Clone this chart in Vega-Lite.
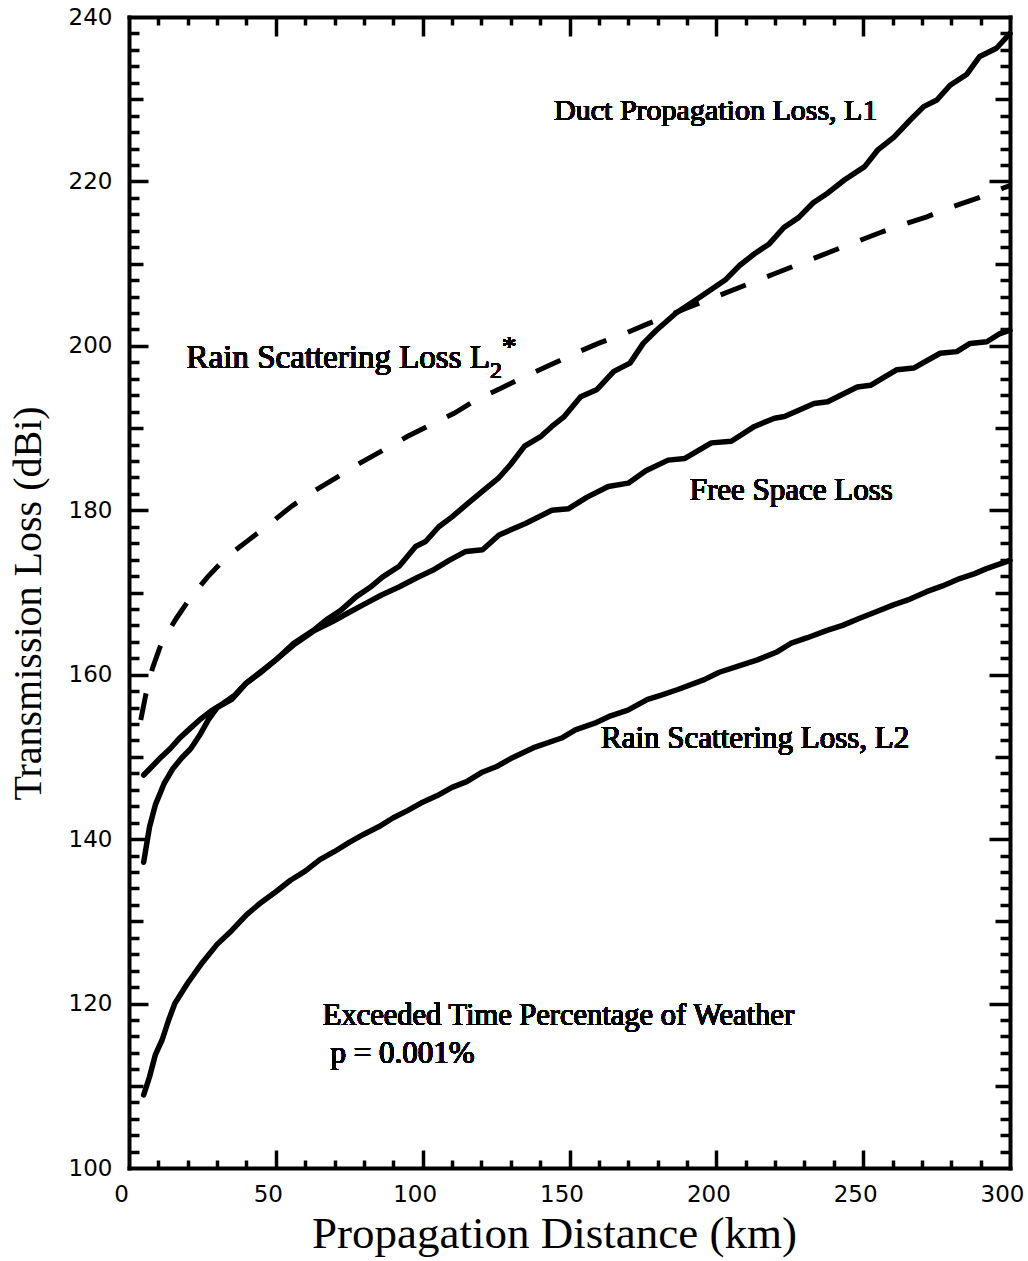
{
  "$schema": "https://vega.github.io/schema/vega-lite/v6.json",
  "width": 881,
  "height": 1151,
  "autosize": {"type": "none"},
  "padding": {"left": 129, "top": 17, "right": 18, "bottom": 93},
  "background": "white",
  "config": {"view": {"stroke": null}, "axis": {"grid": false}},
  "data": {"values": [
    {"s": "L1", "km": 5, "dB": 137.2}, {"s": "L1", "km": 7, "dB": 141.5}, {"s": "L1", "km": 9, "dB": 144.2}, {"s": "L1", "km": 12, "dB": 146.8}, {"s": "L1", "km": 15, "dB": 148.6}, {"s": "L1", "km": 18, "dB": 149.9}, {"s": "L1", "km": 21, "dB": 151.0}, {"s": "L1", "km": 24, "dB": 152.6}, {"s": "L1", "km": 27, "dB": 154.5}, {"s": "L1", "km": 30, "dB": 156.0}, {"s": "L1", "km": 35, "dB": 157.0}, {"s": "L1", "km": 40, "dB": 159.0}, {"s": "L1", "km": 45, "dB": 160.3}, {"s": "L1", "km": 50, "dB": 161.8}, {"s": "L1", "km": 56, "dB": 163.8}, {"s": "L1", "km": 62.8, "dB": 165.4}, {"s": "L1", "km": 67.3, "dB": 166.7}, {"s": "L1", "km": 72, "dB": 167.8}, {"s": "L1", "km": 77.4, "dB": 169.5}, {"s": "L1", "km": 82, "dB": 170.6}, {"s": "L1", "km": 86.4, "dB": 171.9}, {"s": "L1", "km": 92, "dB": 173.2}, {"s": "L1", "km": 97.6, "dB": 175.6}, {"s": "L1", "km": 101, "dB": 176.2}, {"s": "L1", "km": 105.5, "dB": 178.0}, {"s": "L1", "km": 110, "dB": 179.2}, {"s": "L1", "km": 115.6, "dB": 180.9}, {"s": "L1", "km": 120, "dB": 182.2}, {"s": "L1", "km": 125.8, "dB": 183.9}, {"s": "L1", "km": 130, "dB": 185.6}, {"s": "L1", "km": 134.7, "dB": 187.8}, {"s": "L1", "km": 140.3, "dB": 189.0}, {"s": "L1", "km": 144, "dB": 190.2}, {"s": "L1", "km": 148.2, "dB": 191.4}, {"s": "L1", "km": 153.8, "dB": 193.8}, {"s": "L1", "km": 159.4, "dB": 194.7}, {"s": "L1", "km": 165.1, "dB": 196.9}, {"s": "L1", "km": 170.6, "dB": 197.9}, {"s": "L1", "km": 175.1, "dB": 200.3}, {"s": "L1", "km": 179.6, "dB": 201.9}, {"s": "L1", "km": 186.3, "dB": 204.0}, {"s": "L1", "km": 193.1, "dB": 205.6}, {"s": "L1", "km": 198, "dB": 206.8}, {"s": "L1", "km": 203, "dB": 208.0}, {"s": "L1", "km": 208, "dB": 209.8}, {"s": "L1", "km": 213, "dB": 211.2}, {"s": "L1", "km": 218, "dB": 212.4}, {"s": "L1", "km": 223, "dB": 214.4}, {"s": "L1", "km": 228, "dB": 215.6}, {"s": "L1", "km": 233, "dB": 217.4}, {"s": "L1", "km": 238, "dB": 218.6}, {"s": "L1", "km": 243.7, "dB": 220.2}, {"s": "L1", "km": 250.5, "dB": 221.8}, {"s": "L1", "km": 254.9, "dB": 223.8}, {"s": "L1", "km": 260.5, "dB": 225.4}, {"s": "L1", "km": 266.1, "dB": 227.5}, {"s": "L1", "km": 270.6, "dB": 229.1}, {"s": "L1", "km": 275.1, "dB": 229.9}, {"s": "L1", "km": 279.6, "dB": 231.7}, {"s": "L1", "km": 285.2, "dB": 233.0}, {"s": "L1", "km": 289.7, "dB": 235.2}, {"s": "L1", "km": 295.4, "dB": 236.2}, {"s": "L1", "km": 300, "dB": 238.0},
    {"s": "FSL", "km": 5, "dB": 147.8}, {"s": "FSL", "km": 8, "dB": 148.9}, {"s": "FSL", "km": 11, "dB": 150.0}, {"s": "FSL", "km": 14, "dB": 151.0}, {"s": "FSL", "km": 17, "dB": 152.2}, {"s": "FSL", "km": 20, "dB": 153.2}, {"s": "FSL", "km": 24, "dB": 154.5}, {"s": "FSL", "km": 28, "dB": 155.6}, {"s": "FSL", "km": 32, "dB": 156.5}, {"s": "FSL", "km": 36, "dB": 157.5}, {"s": "FSL", "km": 40, "dB": 159.0}, {"s": "FSL", "km": 45, "dB": 160.4}, {"s": "FSL", "km": 50, "dB": 161.8}, {"s": "FSL", "km": 56, "dB": 163.6}, {"s": "FSL", "km": 62.8, "dB": 165.3}, {"s": "FSL", "km": 69.5, "dB": 166.5}, {"s": "FSL", "km": 75, "dB": 167.6}, {"s": "FSL", "km": 80.8, "dB": 168.7}, {"s": "FSL", "km": 86, "dB": 169.7}, {"s": "FSL", "km": 92.1, "dB": 170.7}, {"s": "FSL", "km": 98, "dB": 171.8}, {"s": "FSL", "km": 103.4, "dB": 172.7}, {"s": "FSL", "km": 109, "dB": 173.9}, {"s": "FSL", "km": 114.7, "dB": 175.0}, {"s": "FSL", "km": 120.4, "dB": 175.2}, {"s": "FSL", "km": 126, "dB": 177.0}, {"s": "FSL", "km": 135, "dB": 178.4}, {"s": "FSL", "km": 144, "dB": 180.0}, {"s": "FSL", "km": 149.7, "dB": 180.2}, {"s": "FSL", "km": 156, "dB": 181.6}, {"s": "FSL", "km": 163.2, "dB": 182.9}, {"s": "FSL", "km": 170, "dB": 183.3}, {"s": "FSL", "km": 176, "dB": 184.8}, {"s": "FSL", "km": 183.6, "dB": 186.1}, {"s": "FSL", "km": 189.3, "dB": 186.3}, {"s": "FSL", "km": 198.3, "dB": 188.2}, {"s": "FSL", "km": 205.1, "dB": 188.4}, {"s": "FSL", "km": 213, "dB": 190.2}, {"s": "FSL", "km": 219.8, "dB": 191.2}, {"s": "FSL", "km": 223.2, "dB": 191.4}, {"s": "FSL", "km": 233.3, "dB": 193.0}, {"s": "FSL", "km": 237.9, "dB": 193.2}, {"s": "FSL", "km": 248, "dB": 195.0}, {"s": "FSL", "km": 252.5, "dB": 195.2}, {"s": "FSL", "km": 261.5, "dB": 197.1}, {"s": "FSL", "km": 267.2, "dB": 197.3}, {"s": "FSL", "km": 276.2, "dB": 199.1}, {"s": "FSL", "km": 281.9, "dB": 199.3}, {"s": "FSL", "km": 286.4, "dB": 200.3}, {"s": "FSL", "km": 292.1, "dB": 200.5}, {"s": "FSL", "km": 296.6, "dB": 201.5}, {"s": "FSL", "km": 300, "dB": 201.9},
    {"s": "L2", "km": 5, "dB": 108.9}, {"s": "L2", "km": 7, "dB": 111.1}, {"s": "L2", "km": 9, "dB": 113.8}, {"s": "L2", "km": 11.3, "dB": 115.6}, {"s": "L2", "km": 13.5, "dB": 118.0}, {"s": "L2", "km": 15.6, "dB": 120.0}, {"s": "L2", "km": 20, "dB": 122.5}, {"s": "L2", "km": 25, "dB": 125.0}, {"s": "L2", "km": 30, "dB": 127.2}, {"s": "L2", "km": 35, "dB": 128.9}, {"s": "L2", "km": 40, "dB": 130.8}, {"s": "L2", "km": 45, "dB": 132.3}, {"s": "L2", "km": 50, "dB": 133.6}, {"s": "L2", "km": 55, "dB": 135.0}, {"s": "L2", "km": 60, "dB": 136.1}, {"s": "L2", "km": 65, "dB": 137.5}, {"s": "L2", "km": 70, "dB": 138.5}, {"s": "L2", "km": 75, "dB": 139.6}, {"s": "L2", "km": 80, "dB": 140.6}, {"s": "L2", "km": 85, "dB": 141.5}, {"s": "L2", "km": 90, "dB": 142.6}, {"s": "L2", "km": 95, "dB": 143.5}, {"s": "L2", "km": 100, "dB": 144.5}, {"s": "L2", "km": 105, "dB": 145.3}, {"s": "L2", "km": 110, "dB": 146.3}, {"s": "L2", "km": 115, "dB": 147.0}, {"s": "L2", "km": 120, "dB": 148.1}, {"s": "L2", "km": 125, "dB": 148.8}, {"s": "L2", "km": 130, "dB": 149.8}, {"s": "L2", "km": 138.3, "dB": 151.2}, {"s": "L2", "km": 147.3, "dB": 152.3}, {"s": "L2", "km": 152, "dB": 153.3}, {"s": "L2", "km": 158.6, "dB": 154.1}, {"s": "L2", "km": 164, "dB": 155.0}, {"s": "L2", "km": 169.9, "dB": 155.7}, {"s": "L2", "km": 176.6, "dB": 157.0}, {"s": "L2", "km": 181, "dB": 157.5}, {"s": "L2", "km": 186.9, "dB": 158.2}, {"s": "L2", "km": 195.9, "dB": 159.4}, {"s": "L2", "km": 201, "dB": 160.3}, {"s": "L2", "km": 207.2, "dB": 161.0}, {"s": "L2", "km": 214, "dB": 161.8}, {"s": "L2", "km": 220.8, "dB": 162.8}, {"s": "L2", "km": 225.3, "dB": 163.8}, {"s": "L2", "km": 231, "dB": 164.5}, {"s": "L2", "km": 237.7, "dB": 165.4}, {"s": "L2", "km": 243, "dB": 166.0}, {"s": "L2", "km": 249, "dB": 166.9}, {"s": "L2", "km": 254, "dB": 167.6}, {"s": "L2", "km": 260.3, "dB": 168.5}, {"s": "L2", "km": 266, "dB": 169.2}, {"s": "L2", "km": 271.6, "dB": 170.1}, {"s": "L2", "km": 277, "dB": 170.8}, {"s": "L2", "km": 282.9, "dB": 171.7}, {"s": "L2", "km": 288, "dB": 172.3}, {"s": "L2", "km": 292, "dB": 172.9}, {"s": "L2", "km": 297.6, "dB": 173.6}, {"s": "L2", "km": 300, "dB": 173.9},
    {"s": "L2*", "km": 4, "dB": 154.5}, {"s": "L2*", "km": 5.8, "dB": 157.7}, {"s": "L2*", "km": 8, "dB": 160.8}, {"s": "L2*", "km": 11.2, "dB": 164.0}, {"s": "L2*", "km": 16.2, "dB": 166.9}, {"s": "L2*", "km": 21.2, "dB": 169.5}, {"s": "L2*", "km": 26.8, "dB": 171.9}, {"s": "L2*", "km": 33.5, "dB": 174.4}, {"s": "L2*", "km": 40.8, "dB": 176.4}, {"s": "L2*", "km": 48.1, "dB": 178.4}, {"s": "L2*", "km": 55.4, "dB": 180.5}, {"s": "L2*", "km": 62.8, "dB": 182.3}, {"s": "L2*", "km": 71.2, "dB": 184.1}, {"s": "L2*", "km": 78.5, "dB": 185.7}, {"s": "L2*", "km": 87, "dB": 187.4}, {"s": "L2*", "km": 94.9, "dB": 189.0}, {"s": "L2*", "km": 102.8, "dB": 190.4}, {"s": "L2*", "km": 110.7, "dB": 191.8}, {"s": "L2*", "km": 118.6, "dB": 193.5}, {"s": "L2*", "km": 127, "dB": 194.9}, {"s": "L2*", "km": 135.5, "dB": 196.4}, {"s": "L2*", "km": 143, "dB": 197.6}, {"s": "L2*", "km": 151.9, "dB": 199.1}, {"s": "L2*", "km": 159.8, "dB": 200.3}, {"s": "L2*", "km": 168.9, "dB": 201.5}, {"s": "L2*", "km": 176.8, "dB": 202.7}, {"s": "L2*", "km": 190, "dB": 204.6}, {"s": "L2*", "km": 200, "dB": 206.0}, {"s": "L2*", "km": 210, "dB": 207.4}, {"s": "L2*", "km": 220, "dB": 208.8}, {"s": "L2*", "km": 230, "dB": 210.2}, {"s": "L2*", "km": 240, "dB": 211.6}, {"s": "L2*", "km": 255.2, "dB": 213.7}, {"s": "L2*", "km": 263.1, "dB": 214.7}, {"s": "L2*", "km": 271.7, "dB": 215.7}, {"s": "L2*", "km": 280.2, "dB": 216.9}, {"s": "L2*", "km": 289.2, "dB": 218.0}, {"s": "L2*", "km": 297.7, "dB": 219.2}, {"s": "L2*", "km": 300, "dB": 219.5}
  ]},
  "layer": [
    {
      "transform": [{"filter": "datum.s === 'L1' || datum.s === 'FSL'"}],
      "mark": {"type": "line", "color": "black", "strokeWidth": 5.5, "strokeJoin": "round", "strokeCap": "round"},
      "encoding": {
        "x": {"field": "km", "type": "quantitative", "scale": {"domain": [0, 300], "nice": false, "zero": false},
          "axis": {"orient": "bottom", "values": [0, 50, 100, 150, 200, 250, 300], "ticks": false, "domain": true, "domainWidth": 4, "domainColor": "black", "domainCap": "square",
            "labelFont": "DejaVu Sans", "labelFontSize": 23, "labelColor": "black", "labelPadding": 15, "labelOffset": -8, "labelFlush": false, "labelOverlap": false, "labelBound": false,
            "title": "Propagation Distance (km)", "titleFont": "Liberation Serif", "titleFontSize": 45, "titleFontWeight": "normal", "titleColor": "black", "titleBaseline": "alphabetic", "titleAlign": "center", "titleX": 425, "titleY": 79,
            "encode": {"domain": {"update": {"strokeWidth": {"value": 4}}}}}},
        "y": {"field": "dB", "type": "quantitative", "scale": {"domain": [100, 240], "nice": false, "zero": false},
          "axis": {"orient": "left", "values": [100, 120, 140, 160, 180, 200, 220, 240], "ticks": false, "domain": true, "domainWidth": 4, "domainColor": "black", "domainCap": "square",
            "labelFont": "DejaVu Sans", "labelFontSize": 23, "labelColor": "black", "labelPadding": 17, "labelFlush": false, "labelOverlap": false, "labelBound": false,
            "title": "Transmission Loss (dBi)", "titleFont": "Liberation Serif", "titleFontSize": 40, "titleFontWeight": "normal", "titleColor": "black", "titleBaseline": "alphabetic", "titleAlign": "center", "titleAngle": 270, "titleX": -89, "titleY": 586,
            "encode": {"domain": {"update": {"strokeWidth": {"value": 4}}}}}},
        "detail": {"field": "s"}
      }
    },
    {
      "transform": [{"filter": "datum.s === 'L2'"}],
      "mark": {"type": "line", "color": "black", "strokeWidth": 5.5, "strokeJoin": "round", "strokeCap": "round"},
      "encoding": {
        "x": {"field": "km", "type": "quantitative", "scale": {"domain": [0, 300], "nice": false, "zero": false},
          "axis": {"orient": "bottom", "values": [10, 20, 30, 40, 50, 60, 70, 80, 90, 100, 110, 120, 130, 140, 150, 160, 170, 180, 190, 200, 210, 220, 230, 240, 250, 260, 270, 280, 290], "labels": false, "domain": false, "ticks": true, "tickColor": "black", "tickWidth": 3.5,
            "tickSize": {"condition": {"test": "datum.value % 50 === 0", "value": -18}, "value": -8}, "title": null,
            "encode": {"ticks": {"update": {"strokeWidth": {"value": 3.5}}}}}},
        "y": {"field": "dB", "type": "quantitative", "scale": {"domain": [100, 240], "nice": false, "zero": false},
          "axis": {"orient": "left", "values": [102, 104, 106, 108, 110, 112, 114, 116, 118, 120, 122, 124, 126, 128, 130, 132, 134, 136, 138, 140, 142, 144, 146, 148, 150, 152, 154, 156, 158, 160, 162, 164, 166, 168, 170, 172, 174, 176, 178, 180, 182, 184, 186, 188, 190, 192, 194, 196, 198, 200, 202, 204, 206, 208, 210, 212, 214, 216, 218, 220, 222, 224, 226, 228, 230, 232, 234, 236, 238], "labels": false, "domain": false, "ticks": true, "tickColor": "black", "tickWidth": 3.5,
            "tickSize": {"condition": [{"test": "datum.value % 20 === 0", "value": -19}, {"test": "datum.value % 10 === 0", "value": -14}], "value": -10}, "title": null,
            "encode": {"ticks": {"update": {"strokeWidth": {"value": 3.5}}}}}}
      }
    },
    {
      "transform": [{"filter": "datum.s === 'L2*'"}],
      "mark": {"type": "line", "color": "black", "strokeWidth": 5, "strokeDash": [27, 23], "strokeCap": "butt"},
      "encoding": {
        "x": {"field": "km", "type": "quantitative", "scale": {"domain": [0, 300], "nice": false, "zero": false},
          "axis": {"orient": "top", "values": [10, 20, 30, 40, 50, 60, 70, 80, 90, 100, 110, 120, 130, 140, 150, 160, 170, 180, 190, 200, 210, 220, 230, 240, 250, 260, 270, 280, 290], "labels": false, "domain": true, "domainWidth": 4, "domainColor": "black", "domainCap": "square", "ticks": true, "tickColor": "black", "tickWidth": 3.5,
            "tickSize": {"condition": {"test": "datum.value % 50 === 0", "value": -19}, "value": -8}, "title": null,
            "encode": {"ticks": {"update": {"strokeWidth": {"value": 3.5}}}, "domain": {"update": {"strokeWidth": {"value": 4}}}}}},
        "y": {"field": "dB", "type": "quantitative", "scale": {"domain": [100, 240], "nice": false, "zero": false},
          "axis": {"orient": "right", "values": [102, 104, 106, 108, 110, 112, 114, 116, 118, 120, 122, 124, 126, 128, 130, 132, 134, 136, 138, 140, 142, 144, 146, 148, 150, 152, 154, 156, 158, 160, 162, 164, 166, 168, 170, 172, 174, 176, 178, 180, 182, 184, 186, 188, 190, 192, 194, 196, 198, 200, 202, 204, 206, 208, 210, 212, 214, 216, 218, 220, 222, 224, 226, 228, 230, 232, 234, 236, 238], "labels": false, "domain": true, "domainWidth": 4, "domainColor": "black", "domainCap": "square", "ticks": true, "tickColor": "black", "tickWidth": 3.5,
            "tickSize": {"condition": [{"test": "datum.value % 20 === 0", "value": -21}, {"test": "datum.value % 10 === 0", "value": -15}], "value": -10}, "title": null,
            "encode": {"ticks": {"update": {"strokeWidth": {"value": 3.5}}}, "domain": {"update": {"strokeWidth": {"value": 4}}}}}}
      }
    },
    {
      "mark": {"type": "text", "text": "Duct Propagation Loss, L1", "font": "Liberation Serif", "fontSize": 30, "fontWeight": "normal", "align": "center", "baseline": "alphabetic", "color": "black"},
      "encoding": {"x": {"datum": 199.8, "type": "quantitative", "axis": null}, "y": {"datum": 227.5, "type": "quantitative", "axis": null}}
    },
    {
      "mark": {"type": "text", "text": "Rain Scattering Loss L", "font": "Liberation Serif", "fontSize": 33, "fontWeight": "normal", "align": "left", "baseline": "alphabetic", "color": "black"},
      "encoding": {"x": {"datum": 19.6, "type": "quantitative", "axis": null}, "y": {"datum": 197.3, "type": "quantitative", "axis": null}}
    },
    {
      "mark": {"type": "text", "text": "2", "font": "Liberation Serif", "fontSize": 24, "fontWeight": "normal", "align": "left", "baseline": "alphabetic", "color": "black"},
      "encoding": {"x": {"datum": 122.9, "type": "quantitative", "axis": null}, "y": {"datum": 196.1, "type": "quantitative", "axis": null}}
    },
    {
      "mark": {"type": "text", "text": "*", "font": "Liberation Serif", "fontSize": 30, "fontWeight": "normal", "align": "left", "baseline": "alphabetic", "color": "black"},
      "encoding": {"x": {"datum": 126.9, "type": "quantitative", "axis": null}, "y": {"datum": 198.8, "type": "quantitative", "axis": null}}
    },
    {
      "mark": {"type": "text", "text": "Free Space Loss", "font": "Liberation Serif", "fontSize": 31, "fontWeight": "normal", "align": "center", "baseline": "alphabetic", "color": "black"},
      "encoding": {"x": {"datum": 225.5, "type": "quantitative", "axis": null}, "y": {"datum": 181.3, "type": "quantitative", "axis": null}}
    },
    {
      "mark": {"type": "text", "text": "Rain Scattering Loss, L2", "font": "Liberation Serif", "fontSize": 31, "fontWeight": "normal", "align": "center", "baseline": "alphabetic", "color": "black"},
      "encoding": {"x": {"datum": 213.2, "type": "quantitative", "axis": null}, "y": {"datum": 151.1, "type": "quantitative", "axis": null}}
    },
    {
      "mark": {"type": "text", "text": "Exceeded Time Percentage of Weather", "font": "Liberation Serif", "fontSize": 30.5, "fontWeight": "normal", "align": "left", "baseline": "alphabetic", "color": "black"},
      "encoding": {"x": {"datum": 66.0, "type": "quantitative", "axis": null}, "y": {"datum": 117.4, "type": "quantitative", "axis": null}}
    },
    {
      "mark": {"type": "text", "text": "p = 0.001%", "font": "Liberation Serif", "fontSize": 31, "fontWeight": "normal", "align": "left", "baseline": "alphabetic", "color": "black"},
      "encoding": {"x": {"datum": 68.6, "type": "quantitative", "axis": null}, "y": {"datum": 112.8, "type": "quantitative", "axis": null}}
    }
  ],
  "resolve": {"axis": {"x": "independent", "y": "independent"}}
}
